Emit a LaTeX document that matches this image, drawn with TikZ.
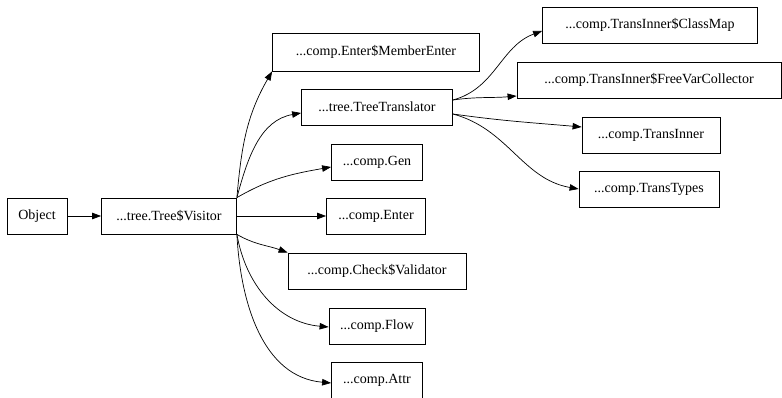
\documentclass[tikz,border=0pt]{standalone}
\usepackage{fontspec}
\setmainfont{Liberation Serif}
\usetikzlibrary{arrows.meta}

\begin{document}
\begin{tikzpicture}[x=1pt,y=1pt,>={Triangle[length=9pt,width=6.5pt]},
    cls/.style={draw,line width=0.8pt,inner sep=0pt,minimum height=36pt,
      font=\fontsize{14}{16}\selectfont},
    every edge/.style={draw,line width=0.7pt}]

    \useasboundingbox (0,0) rectangle (782,398);

    \node[cls,minimum width=60]  (obj)  at (37,182)  {Object};
    \node[cls,minimum width=135] (vis)  at (169,182) {...tree.Tree\$Visitor};
    \node[cls,minimum width=207,minimum height=38] (mem) at (376,346) {...comp.Enter\$MemberEnter};
    \node[cls,minimum width=151] (tt)   at (377,291) {...tree.TreeTranslator};
    \node[cls,minimum width=91]  (gen)  at (377,236) {...comp.Gen};
    \node[cls,minimum width=99]  (ent)  at (376,182) {...comp.Enter};
    \node[cls,minimum width=178] (chk)  at (377,127) {...comp.Check\$Validator};
    \node[cls,minimum width=96]  (flow) at (377,72)  {...comp.Flow};
    \node[cls,minimum width=91]  (attr) at (377,18)  {...comp.Attr};
    \node[cls,minimum width=215] (cmap) at (650,373) {...comp.TransInner\$ClassMap};
    \node[cls,minimum width=264] (fvc)  at (649,318) {...comp.TransInner\$FreeVarCollector};
    \node[cls,minimum width=138] (ti)   at (651,263) {...comp.TransInner};
    \node[cls,minimum width=140] (ttp)  at (649,209) {...comp.TransTypes};

  \path[->] (obj)             edge                   (vis)
            (vis.north east)  edge [out=85,in=240]   (mem.south west)
            (vis.north east)  edge [out=75,in=190]   ([yshift=-6pt]tt.west)
            (vis.north east)  edge [out=30,in=190]   ([yshift=-5pt]gen.west)
            (vis.east)        edge                   (ent.west)
            (vis.south east)  edge [out=-30,in=160]  (chk.north west)
            (vis.south east)  edge [out=-80,in=175]  ([yshift=-1pt]flow.west)
            (vis.south east)  edge [out=-87,in=175]  ([yshift=-3pt]attr.west)
            ([yshift=7pt]tt.east)  edge [out=15,in=200]  ([yshift=-6pt]cmap.west)
            ([yshift=7pt]tt.east)  edge [out=8,in=185]   ([yshift=-16pt]fvc.west)
            ([yshift=-7pt]tt.east) edge [out=-8,in=175]  ([yshift=8pt]ti.west)
            ([yshift=-7pt]tt.east) edge [out=-15,in=170] (ttp.west)
            ;
\end{tikzpicture}
\end{document}
